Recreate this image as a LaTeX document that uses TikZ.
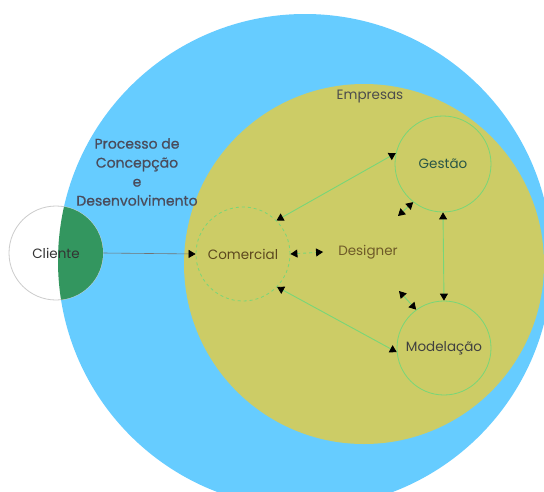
\documentclass[tikz,border=0pt]{standalone}
\usepackage{fontspec}
\setmainfont{Poppins}
\newfontfamily\procfont{Poppins}[FakeBold=0.8]
\usetikzlibrary{arrows.meta}
\definecolor{bluebg}{RGB}{102,204,255}
\definecolor{olivebg}{RGB}{204,204,102}
\definecolor{dgreen}{RGB}{51,150,95}
\definecolor{lgreen}{RGB}{120,214,120}
\definecolor{slate}{RGB}{74,76,92}
\definecolor{comcol}{RGB}{92,72,30}
\definecolor{descol}{RGB}{110,90,40}
\definecolor{gescol}{RGB}{40,85,70}
\begin{document}
\begin{tikzpicture}[x=1pt,y=-1pt,
  lbl/.style={font=\fontsize{13.5}{15}\selectfont, inner sep=1pt},
  ring/.style={circle, draw=lgreen, line width=0.8pt, minimum size=#1, inner sep=0pt, font=\fontsize{13.5}{15}\selectfont},
  conn/.style={draw=lgreen, line width=0.9pt, {Triangle[color=black,width=8pt,length=7pt]}-{Triangle[color=black,width=8pt,length=7pt]}}
]
\useasboundingbox[fill=white] (0,0) rectangle (544,491);
\begin{scope}
\clip (0,0) rectangle (544,491);
\fill[bluebg] (305,261) circle (247pt);
\end{scope}
% client
\node[circle, draw=gray!40, line width=0.8pt, fill=white, minimum size=94pt, inner sep=0pt] (cli) at (56,253) {};
\begin{scope}
\clip (305,261) circle (247pt);
\fill[dgreen] (cli.center) circle (47pt);
\end{scope}
% empresas
\fill[olivebg] (364,264) circle (180pt);
\node[lbl, text=black!70] (emp) at (370,97) {Empresas};
\node[lbl, text=slate, font=\procfont\fontsize{14}{19}\selectfont, align=center] (proc) at (137,172) {Processo de\\Concepção\\e\\Desenvolvimento};
\node[lbl, text=black!80] (clit) at (56,253) {Cliente};
% rings
\node[ring=94pt, dashed, text=comcol] (com) at (243,254) {Comercial};
\node[ring=96pt, text=gescol] (ges) at (443,164) {Gestão};
\node[ring=94pt, text=black!75] (mod) at (444,348) {Modelação};
\node[lbl, text=descol] (des) at (368,252) {Designer};
\coordinate (dg) at (398,216);
\coordinate (dm) at (399,291);
% connectors
\draw[draw=black!55, line width=0.6pt, -{Triangle[color=black,width=8pt,length=7pt]}] (cli.east) -- (com.west);
\draw[conn] (com.45) -- (ges.167);
\draw[conn] (com.-44) -- (mod.185);
\draw[conn] (ges.-90) -- (mod.90);
\draw[conn, dashed] (com.east) -- ([xshift=-14pt]des.west);
\draw[conn] (dg) -- (ges.232);
\draw[conn] (dm) -- (mod.126);
\end{tikzpicture}
\end{document}
